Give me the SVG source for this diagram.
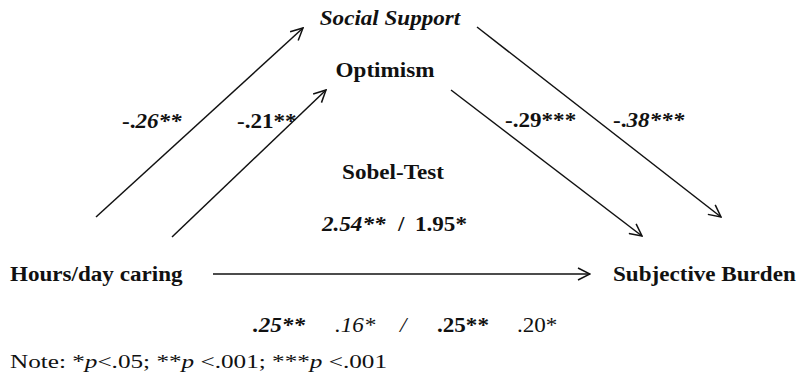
<svg xmlns="http://www.w3.org/2000/svg" width="804" height="373" viewBox="0 0 804 373">
<style>
text{font-family:"Liberation Serif","Times New Roman",serif;fill:#111;}
.lab{font-size:21px;font-weight:bold;}
.coef{font-size:21px;}
.b{font-weight:bold;}
.i{font-style:italic;}
.note{font-size:19px;}
.conn{stroke:#111;stroke-width:1.5;fill:none;marker-end:url(#arr);}
</style>
<defs>
<marker id="arr" viewBox="0 0 14 14" refX="13" refY="7" markerWidth="14" markerHeight="14" markerUnits="userSpaceOnUse" orient="auto">
<path d="M1,1 L13,7 L1,13" fill="none" stroke="#111" stroke-width="1.5"/>
</marker>
</defs>
<rect width="804" height="373" fill="#fff"/>
<g id="connectors">
<line class="conn" x1="96" y1="217" x2="303" y2="28"/>
<line class="conn" x1="172" y1="237" x2="326" y2="90"/>
<line class="conn" x1="451" y1="90" x2="642" y2="236"/>
<line class="conn" x1="477" y1="27" x2="721" y2="217"/>
<line class="conn" x1="213" y1="274" x2="590" y2="274"/>
</g>
<g id="node-social-support"><text class="lab i" text-anchor="middle" transform="translate(390,25) scale(1.1,1)">Social Support</text></g>
<g id="node-optimism"><text class="lab" text-anchor="middle" transform="translate(385,77) scale(1.1,1)">Optimism</text></g>
<g id="node-hours"><text class="lab" transform="translate(10,281) scale(1.1,1)">Hours/day caring</text></g>
<g id="node-burden"><text class="lab" transform="translate(613,281) scale(1.1,1)">Subjective Burden</text></g>
<g id="labels">
<text class="coef b" transform="translate(122,128) scale(1.1,1)">-.<tspan class="i">26**</tspan></text>
<text class="coef b" transform="translate(237,128) scale(1.1,1)">-.21**</text>
<text class="coef b" transform="translate(505,127) scale(1.1,1)">-.29***</text>
<text class="coef b" transform="translate(613,127) scale(1.1,1)">-.<tspan class="i">38***</tspan></text>
<text class="lab" text-anchor="middle" transform="translate(393,179) scale(1.1,1)">Sobel-Test</text>
<text class="coef b i" transform="translate(322,231) scale(1.1,1)">2.54**</text>
<text class="coef b" transform="translate(398,231) scale(1.1,1)">/</text>
<text class="coef b" transform="translate(415,231) scale(1.1,1)">1.95*</text>
<text class="coef b i" transform="translate(253,332) scale(1.1,1)">.25**</text>
<text class="coef i" transform="translate(335,332) scale(1.1,1)">.16*</text>
<text class="coef i" transform="translate(400,332) scale(1.1,1)">/</text>
<text class="coef b" transform="translate(437,332) scale(1.1,1)">.25**</text>
<text class="coef" transform="translate(517,332) scale(1.1,1)">.20*</text>
<text class="note" x="10" y="368" textLength="377" lengthAdjust="spacingAndGlyphs">Note: *<tspan class="i">p</tspan>&lt;.05; **<tspan class="i">p</tspan> &lt;.001; ***<tspan class="i">p</tspan> &lt;.001</text>
</g>
</svg>
